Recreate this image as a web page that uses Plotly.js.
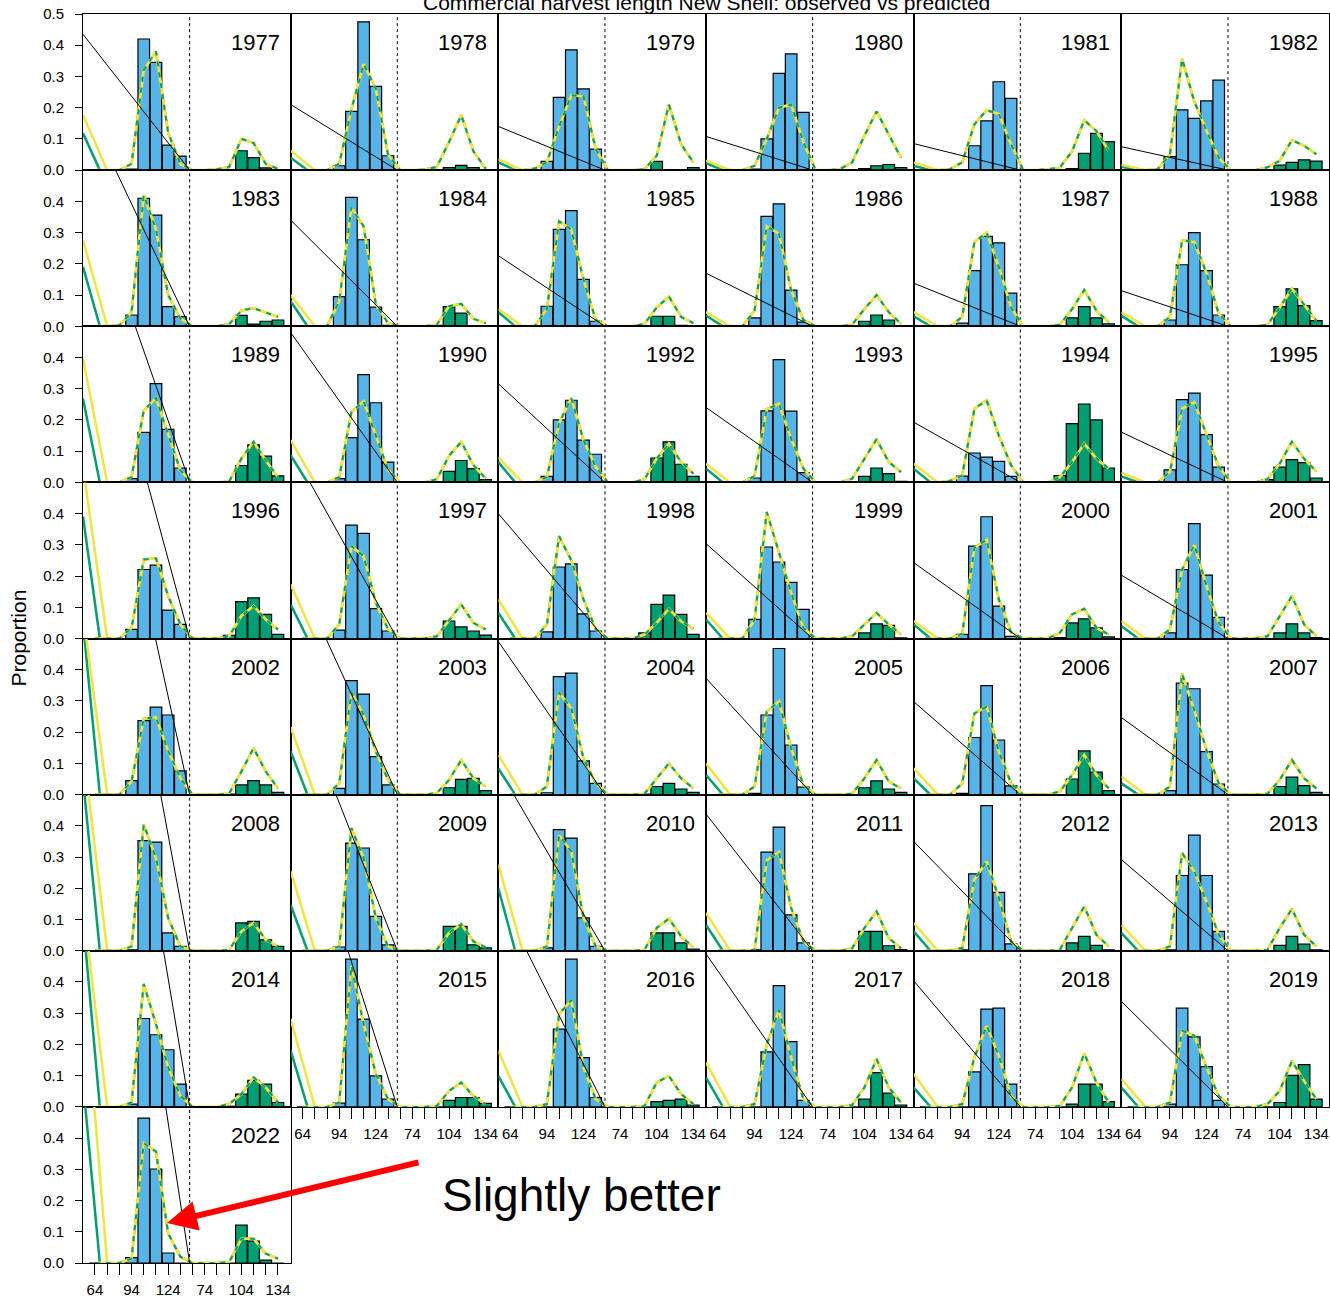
<!DOCTYPE html>
<html><head><meta charset="utf-8">
<script src="https://cdn.plot.ly/plotly-3.0.1.min.js"></script>
<style>html,body{margin:0;padding:0;background:#fff}#chart{width:1330px;height:1301px}</style>
</head><body><div id="chart"></div>
<script>
const years = [1977,1978,1979,1980,1981,1982,1983,1984,1985,1986,1987,1988,1989,1990,1992,1993,1994,1995,1996,1997,1998,1999,2000,2001,2002,2003,2004,2005,2006,2007,2008,2009,2010,2011,2012,2013,2014,2015,2016,2017,2018,2019,2022];
const lengthBins = [64,74,84,94,104,114,124,134];
const femaleOffset = 80;
const xTickVals = [64,74,84,94,104,114,124,134,144,154,164,174,184,194,204,214];
const xTickText = ['64','','','94','','','124','','','74','','','104','','','134'];

// observed proportions, left block (blue bars)
const obsLeft = [
[0,0,0,0.003,0.42,0.345,0.08,0.045],[0,0,0,0.014,0.188,0.475,0.268,0.046],[0,0,0,0.028,0.233,0.385,0.26,0.067],
[0,0,0,0.003,0.1,0.31,0.372,0.185],[0,0,0,0.002,0.078,0.158,0.283,0.23],[0,0,0,0.043,0.193,0.166,0.222,0.288],
[0,0,0,0.036,0.41,0.356,0.063,0.031],[0,0,0,0.095,0.413,0.277,0.061,0.003],[0,0,0,0.064,0.31,0.37,0.15,0.016],
[0,0,0,0.027,0.352,0.392,0.116,0.013],[0,0,0,0.01,0.178,0.288,0.267,0.106],[0,0,0,0.02,0.197,0.3,0.178,0.036],
[0,0,0,0.012,0.16,0.316,0.17,0.046],[0,0,0,0.012,0.143,0.345,0.255,0.065],[0,0,0,0.019,0.2,0.263,0.135,0.09],
[0,0,0,0.014,0.229,0.393,0.228,0.031],[0,0,0,0.02,0.094,0.081,0.067,0.019],[0,0,0,0.04,0.265,0.286,0.153,0.049],
[0,0,0,0.029,0.221,0.235,0.091,0.045],[0,0,0,0.027,0.363,0.337,0.096,0.024],[0,0,0,0.021,0.229,0.239,0.079,0.024],
[0,0,0,0.061,0.293,0.245,0.18,0.093],[0,0,0,0.013,0.296,0.39,0.104,0.007],[0,0,0,0.018,0.221,0.368,0.203,0.068],
[0,0,0,0.045,0.237,0.28,0.255,0.076],[0,0,0,0.02,0.365,0.322,0.122,0.031],[0,0,0,0.006,0.378,0.389,0.108,0.036],
[0,0,0,0.004,0.255,0.468,0.159,0.024],[0,0,0,0.004,0.183,0.349,0.175,0.028],[0,0,0,0.013,0.357,0.339,0.138,0.034],
[0,0,0,0.003,0.353,0.348,0.057,0.014],[0,0,0,0.012,0.345,0.329,0.11,0.019],[0,0,0,0.009,0.388,0.361,0.105,0.014],
[0,0,0,0.003,0.316,0.396,0.115,0.025],[0,0,0,0.003,0.246,0.465,0.187,0.022],[0,0,0,0.003,0.241,0.37,0.241,0.062],
[0,0,0,0.009,0.283,0.231,0.183,0.073],[0,0,0,0.012,0.473,0.281,0.099,0.025],[0,0,0,0,0.249,0.473,0.158,0.03],
[0,0,0,0,0.176,0.388,0.209,0.021],[0,0,0,0,0.112,0.313,0.316,0.073],[0,0,0,0.009,0.316,0.224,0.129,0.021],
[0,0,0,0.017,0.464,0.301,0.032,0]
];
// observed proportions, right block (green bars)
const obsRight = [
[0,0,0,0,0.062,0.04,0.007,0.001],[0,0,0,0,0.008,0.015,0.008,0.002],[0,0,0,0,0.028,0,0.002,0.008],
[0,0,0,0,0.005,0.014,0.018,0.008],[0,0,0,0,0.005,0.054,0.118,0.091],[0,0,0,0,0.016,0.025,0.033,0.029],
[0,0,0,0,0.035,0.007,0.016,0.02],[0,0,0,0.003,0.063,0.042,0.002,0],[0,0,0,0,0.032,0.032,0.003,0],
[0,0,0,0,0.016,0.036,0.02,0],[0,0,0,0,0.027,0.063,0.027,0.008],[0,0,0,0.002,0.063,0.12,0.066,0.018],
[0,0,0,0.002,0.054,0.12,0.084,0.021],[0,0,0,0,0.035,0.07,0.044,0.009],[0,0,0,0,0.078,0.13,0.058,0.019],
[0,0,0,0,0.019,0.046,0.028,0.003],[0,0,0,0.022,0.188,0.251,0.2,0.046],[0,0,0,0.009,0.049,0.073,0.063,0.014],
[0,0,0,0.01,0.118,0.13,0.077,0.013],[0,0,0,0,0.056,0.037,0.024,0.011],[0,0,0,0.018,0.109,0.139,0.077,0.013],
[0,0,0,0,0.018,0.047,0.042,0.002],[0,0,0,0.003,0.05,0.063,0.034,0.005],[0,0,0,0,0.018,0.047,0.018,0.003],
[0,0,0,0.002,0.031,0.045,0.031,0.007],[0,0,0,0,0.022,0.049,0.052,0.013],[0,0,0,0.002,0.026,0.036,0.018,0.007],
[0,0,0,0,0.022,0.044,0.018,0.007],[0,0,0,0,0.05,0.14,0.072,0.013],[0,0,0,0,0.026,0.056,0.029,0.007],
[0,0,0,0,0.089,0.094,0.035,0.014],[0,0,0,0,0.078,0.078,0.019,0.009],[0,0,0,0,0.057,0.057,0.025,0.005],
[0,0,0,0,0.062,0.062,0.016,0.004],[0,0,0,0,0.025,0.046,0.017,0.003],[0,0,0,0,0.017,0.046,0.021,0.003],
[0,0,0,0.002,0.041,0.085,0.073,0.014],[0,0,0,0,0.021,0.03,0.03,0.011],[0,0,0,0,0.017,0.021,0.025,0.006],
[0,0,0,0,0.025,0.11,0.044,0.006],[0,0,0,0,0.009,0.073,0.073,0.017],[0,0,0,0,0.014,0.101,0.135,0.025],
[0,0,0,0,0.121,0.07,0.009,0]
];
// predicted proportions, left block
const predLeft = [
[0,0,0,0.02,0.32,0.38,0.12,0.02],[0,0,0,0.02,0.195,0.34,0.26,0.05],[0,0,0.005,0.025,0.14,0.24,0.236,0.067],
[0,0,0,0.014,0.1,0.2,0.21,0.09],[0,0,0.003,0.025,0.147,0.192,0.18,0.083],[0,0,0.003,0.05,0.356,0.22,0.126,0.04],
[0,0,0.003,0.045,0.42,0.31,0.1,0.025],[0,0,0,0.08,0.38,0.32,0.07,0.01],[0,0,0,0.055,0.336,0.31,0.15,0.02],
[0,0,0,0.05,0.32,0.296,0.115,0.02],[0,0,0,0.03,0.27,0.3,0.19,0.06],[0,0,0,0.03,0.275,0.27,0.17,0.04],
[0,0,0,0.017,0.23,0.27,0.155,0.038],[0,0,0,0.017,0.225,0.26,0.15,0.04],[0,0,0,0.017,0.19,0.27,0.135,0.05],
[0,0,0,0.02,0.234,0.252,0.14,0.044],[0,0,0.005,0.022,0.236,0.263,0.15,0.055],[0,0,0,0.033,0.236,0.257,0.15,0.05],
[0,0,0,0.034,0.253,0.257,0.136,0.045],[0,0,0,0.045,0.296,0.264,0.114,0.03],[0,0,0,0.045,0.328,0.25,0.125,0.03],
[0,0,0,0.06,0.405,0.275,0.146,0.034],[0,0,0,0.015,0.29,0.317,0.125,0.02],[0,0,0,0.029,0.22,0.3,0.168,0.05],
[0,0,0,0.042,0.243,0.248,0.14,0.052],[0,0,0,0.036,0.328,0.255,0.138,0.047],[0,0,0,0.026,0.327,0.277,0.116,0.036],
[0,0,0,0.026,0.266,0.298,0.149,0.031],[0,0,0,0.036,0.26,0.282,0.138,0.036],[0,0,0,0.026,0.387,0.27,0.143,0.036],
[0,0,0,0.014,0.404,0.297,0.105,0.014],[0,0,0,0.014,0.393,0.297,0.105,0.014],[0,0,0,0.014,0.37,0.318,0.105,0.014],
[0,0,0,0.003,0.29,0.316,0.137,0.03],[0,0,0,0.009,0.228,0.286,0.169,0.03],[0,0,0,0.014,0.313,0.254,0.158,0.051],
[0,0,0,0.014,0.393,0.265,0.126,0.035],[0,0,0,0.014,0.452,0.265,0.105,0.025],[0,0,0,0.009,0.297,0.342,0.126,0.025],
[0,0,0,0.009,0.2,0.31,0.158,0.025],[0,0,0,0.009,0.158,0.26,0.163,0.035],[0,0,0,0.014,0.244,0.228,0.126,0.035],
[0,0,0,0.014,0.384,0.357,0.094,0.02]
];
// predicted proportions, right block
const predRight = [
[0,0,0.003,0.01,0.1,0.087,0.02,0.004],[0,0,0.002,0.01,0.09,0.176,0.06,0.005],[0,0,0,0.003,0.046,0.21,0.083,0.025],
[0,0,0.003,0.025,0.11,0.188,0.115,0.04],[0,0,0.003,0.008,0.06,0.16,0.125,0.062],[0,0,0,0.009,0.03,0.096,0.078,0.051],
[0,0,0,0.007,0.05,0.058,0.045,0.03],[0,0,0,0.005,0.064,0.072,0.024,0.01],[0,0,0,0.008,0.06,0.095,0.03,0.01],
[0,0,0,0.005,0.055,0.1,0.045,0.008],[0,0,0,0.005,0.055,0.116,0.05,0.013],[0,0,0,0.005,0.06,0.12,0.07,0.018],
[0,0,0,0.003,0.076,0.13,0.07,0.017],[0,0,0,0.01,0.085,0.13,0.055,0.012],[0,0,0,0.01,0.076,0.124,0.065,0.028],
[0,0,0,0.012,0.076,0.138,0.065,0.033],[0,0,0,0.017,0.065,0.124,0.076,0.044],[0,0,0,0.01,0.06,0.13,0.076,0.035],
[0,0,0,0.007,0.072,0.104,0.061,0.029],[0,0,0,0.007,0.06,0.109,0.05,0.029],[0,0,0,0.013,0.05,0.095,0.055,0.031],
[0,0,0,0.007,0.045,0.082,0.045,0.013],[0,0,0,0.018,0.077,0.095,0.034,0.013],[0,0,0,0.007,0.072,0.136,0.045,0.008],
[0,0,0,0.004,0.074,0.149,0.074,0.02],[0,0,0,0.005,0.047,0.111,0.052,0.026],[0,0,0,0.003,0.052,0.1,0.052,0.02],
[0,0,0,0.003,0.052,0.111,0.042,0.02],[0,0,0,0.01,0.063,0.127,0.063,0.02],[0,0,0,0.003,0.047,0.111,0.052,0.02],
[0,0,0,0.003,0.062,0.089,0.035,0.014],[0,0,0,0.003,0.057,0.085,0.03,0.011],[0,0,0,0.003,0.073,0.103,0.046,0.011],
[0,0,0,0.008,0.073,0.126,0.04,0.008],[0,0,0,0.003,0.073,0.142,0.051,0.014],[0,0,0,0.003,0.073,0.134,0.051,0.014],
[0,0,0,0.009,0.041,0.094,0.062,0.014],[0,0,0,0.003,0.051,0.078,0.035,0.009],[0,0,0,0.003,0.078,0.099,0.041,0.009],
[0,0,0,0.006,0.062,0.153,0.062,0.014],[0,0,0,0.003,0.062,0.171,0.078,0.014],[0,0,0,0.009,0.051,0.147,0.083,0.025],
[0,0,0,0.003,0.078,0.078,0.03,0.014]
];
// thin black diagonal: height at the left edge, falling to zero at the separator
const diagStart = [0.435,0.21,0.14,0.108,0.085,0.075, 0.72,0.34,0.226,0.17,0.138,0.114, 0.98,0.48,0.316,0.24,0.193,0.161,
  1.26,0.61,0.40,0.304,0.243,0.203, 1.56,0.747,0.49,0.373,0.298,0.247, 1.84,0.87,0.585,0.438,0.35,0.292,
  2.04,1.08,0.68,0.49,0.404,0.338, 2.23];
// steep lines at the left edge (yellow and green), heights at the left edge
const leftYellow = [0.176,0.062,0.035,0.03,0.025,0.017, 0.275,0.10,0.055,0.045,0.045,0.045, 0.396,0.135,0.08,0.06,0.06,0.031,
  0.55,0.173,0.125,0.082,0.056,0.056, 0.58,0.216,0.127,0.10,0.084,0.058, 0.65,0.254,0.276,0.121,0.089,0.083,
  0.65,0.281,0.18,0.142,0.105,0.089, 0.94];
const leftGreen = [0.118,0.04,0.025,0.022,0.014,0.011, 0.19,0.08,0.045,0.034,0.032,0.034, 0.268,0.087,0.065,0.044,0.044,0.019,
  0.39,0.109,0.082,0.061,0.045,0.04, 0.55,0.138,0.084,0.063,0.052,0.036, 0.55,0.147,0.2,0.083,0.062,0.057,
  0.6,0.18,0.099,0.094,0.062,0.062, 0.58];
const leftYellowZero = 74, leftGreenZero = 68;
const xLeft = 54.2, xRight = 224.4, sepX = 141.6;

const FONT = 'Liberation Sans, Arial, Helvetica, sans-serif';
const traces = [];
const layout = {
  width: 1330, height: 1301,
  margin: {l: 83, r: 1, t: 14, b: 38},
  showlegend: false, barmode: 'overlay',
  paper_bgcolor: '#fff', plot_bgcolor: '#fff',
  font: {family: FONT, color: '#000', size: 15},
  annotations: [], hovermode: false
};
const rightBins = lengthBins.map(v => v + femaleOffset);
const allBins = lengthBins.concat(rightBins);

years.forEach((yr, i) => {
  const n = i + 1;
  const xa = n === 1 ? 'x' : 'x' + n;
  const ya = n === 1 ? 'y' : 'y' + n;
  const row = Math.floor(i / 6), col = i % 6;
  const bottom = (i >= 37);
  traces.push({type: 'bar', x: lengthBins, y: obsLeft[i], xaxis: xa, yaxis: ya, width: 9.5,
    marker: {color: '#56B4E9', line: {color: '#000', width: 1.2}}});
  traces.push({type: 'bar', x: rightBins, y: obsRight[i], xaxis: xa, yaxis: ya, width: 9.5,
    marker: {color: '#009E73', line: {color: '#000', width: 1.2}}});
  traces.push({type: 'scatter', mode: 'lines', x: [sepX, sepX], y: [0, 0.5], xaxis: xa, yaxis: ya,
    line: {color: '#000', width: 1, dash: 'dot'}});
  traces.push({type: 'scatter', mode: 'lines', x: [xLeft, leftGreenZero], y: [leftGreen[i], 0], xaxis: xa, yaxis: ya,
    line: {color: '#009E73', width: 2.5}});
  traces.push({type: 'scatter', mode: 'lines', x: [xLeft, leftYellowZero], y: [leftYellow[i], 0], xaxis: xa, yaxis: ya,
    line: {color: '#F0E442', width: 2.5}});
  const pred = predLeft[i].concat(predRight[i]);
  traces.push({type: 'scatter', mode: 'lines', x: allBins, y: pred, xaxis: xa, yaxis: ya,
    line: {color: '#000', width: 2}});
  traces.push({type: 'scatter', mode: 'lines', x: allBins, y: pred, xaxis: xa, yaxis: ya,
    line: {color: '#F0E442', width: 2.8}});
  traces.push({type: 'scatter', mode: 'lines', x: allBins, y: pred, xaxis: xa, yaxis: ya,
    line: {color: '#009E73', width: 2, dash: '5px,6px'}});
  traces.push({type: 'scatter', mode: 'lines', x: [xLeft, sepX], y: [diagStart[i], 0], xaxis: xa, yaxis: ya,
    line: {color: '#000', width: 1}});

  const ytv = row === 0 ? [0, 0.1, 0.2, 0.3, 0.4, 0.5] : [0, 0.1, 0.2, 0.3, 0.4];
  layout['xaxis' + (n === 1 ? '' : n)] = {
    domain: [col / 6, (col + 1) / 6], range: [xLeft, xRight], anchor: ya,
    showline: true, mirror: true, linecolor: '#000', linewidth: 1,
    showgrid: false, zeroline: false, fixedrange: true,
    ticks: bottom ? 'outside' : '', ticklen: 11, tickwidth: 1, tickcolor: '#000',
    tickmode: 'array', tickvals: xTickVals, ticktext: xTickText,
    showticklabels: bottom, tickfont: {size: 15, family: FONT}, ticklabelstandoff: 2
  };
  layout['yaxis' + (n === 1 ? '' : n)] = {
    domain: [1 - (row + 1) / 8, 1 - row / 8], range: [0, 0.5], anchor: xa,
    showline: true, mirror: true, linecolor: '#000', linewidth: 1,
    showgrid: false, zeroline: false, fixedrange: true,
    ticks: col === 0 ? 'outside' : '', ticklen: 7, tickwidth: 1, tickcolor: '#000',
    tickmode: 'array', tickvals: ytv, ticktext: ytv.map(v => v.toFixed(1)),
    showticklabels: col === 0, tickfont: {size: 15, family: FONT}, ticklabelstandoff: 8
  };
  layout.annotations.push({text: String(yr), xref: xa + ' domain', yref: ya + ' domain', x: 1, y: 1,
    xanchor: 'right', yanchor: 'top', xshift: -9, yshift: -14, showarrow: false,
    font: {size: 22, family: FONT, color: '#000'}});
});

layout.annotations.push({text: 'Commercial harvest length New Shell: observed vs predicted',
  xref: 'paper', yref: 'paper', x: 0.5, y: 1, xanchor: 'center', yanchor: 'bottom', yshift: -2,
  showarrow: false, font: {size: 21, family: FONT, color: '#000'}});
layout.annotations.push({text: 'Proportion', xref: 'paper', yref: 'paper', x: 0, y: 0.5, xshift: -65,
  xanchor: 'center', yanchor: 'middle', textangle: -90, showarrow: false,
  font: {size: 21, family: FONT, color: '#000'}});
layout.annotations.push({text: '', xref: 'x43', yref: 'y43', x: 123, y: 0.128, ax: 253, ay: -61,
  showarrow: true, arrowhead: 2, arrowsize: 1, arrowwidth: 6, arrowcolor: '#FF0000', standoff: 0});
layout.annotations.push({text: 'Slightly better', xref: 'paper', yref: 'paper', x: 0.4002, y: 0.0544,
  xanchor: 'center', yanchor: 'middle', showarrow: false, font: {size: 46, family: FONT, color: '#000'}});

Plotly.newPlot('chart', traces, layout, {staticPlot: true, displayModeBar: false});
</script>
</body></html>
